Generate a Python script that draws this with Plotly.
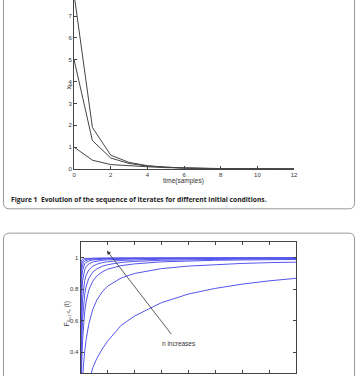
import plotly.graph_objects as go

W, H = 360, 376

# ---------------- Figure 1 data: iterates for different initial conditions
samples = list(range(13))
iter_start_8 = [8.0, 1.9, 0.63, 0.30, 0.15, 0.08, 0.045, 0.025, 0.015, 0.008, 0.004, 0.002, 0.001]
iter_start_5 = [5.0, 1.3, 0.50, 0.25, 0.13, 0.07, 0.040, 0.022, 0.012, 0.007, 0.004, 0.002, 0.001]
iter_start_1 = [1.0, 0.4, 0.20, 0.14, 0.10, 0.06, 0.035, 0.020, 0.011, 0.006, 0.003, 0.002, 0.001]
fig1_xticks = [0, 2, 4, 6, 8, 10, 12]
fig1_yticks = [0, 1, 2, 3, 4, 5, 6, 7]

# ---------------- Figure 2 data: distribution curves, n increases
t_grid = [0, 0.01, 0.02, 0.04, 0.07, 0.1, 0.15, 0.2, 0.3, 0.45, 0.6, 0.8, 1, 1.5, 2, 3, 4, 5, 6, 7, 8]
cdf_n1 = [0, 0.008, 0.016, 0.032, 0.055, 0.077, 0.111, 0.143, 0.21, 0.30, 0.36, 0.42, 0.47, 0.57, 0.63, 0.715, 0.77, 0.806, 0.833, 0.854, 0.870]
cdf_n2 = [0, 0.043, 0.083, 0.154, 0.241, 0.312, 0.405, 0.476, 0.577, 0.672, 0.732, 0.784, 0.820, 0.872, 0.901, 0.932, 0.948, 0.958, 0.965, 0.970, 0.973]
cdf_n3 = [0, 0.114, 0.204, 0.339, 0.473, 0.562, 0.658, 0.719, 0.794, 0.852, 0.885, 0.911, 0.928, 0.951, 0.962, 0.975, 0.981, 0.985, 0.987, 0.989, 0.990]
cdf_n4 = [0, 0.182, 0.308, 0.471, 0.609, 0.690, 0.769, 0.816, 0.870, 0.909, 0.930, 0.947, 0.957, 0.971, 0.978, 0.985, 0.989, 0.991, 0.993, 0.994, 0.994]
cdf_n5 = [0, 0.286, 0.444, 0.615, 0.737, 0.800, 0.857, 0.889, 0.923, 0.947, 0.960, 0.970, 0.976, 0.984, 0.988, 0.992, 0.994, 0.995, 0.996, 0.996, 0.997]
cdf_n6 = [0, 0.455, 0.625, 0.769, 0.854, 0.893, 0.926, 0.943, 0.962, 0.974, 0.980, 0.985, 0.988, 0.992, 0.994, 0.996, 0.997, 0.998, 0.998, 0.998, 0.999]
cdf_n7 = [0, 0.625, 0.769, 0.870, 0.921, 0.943, 0.962, 0.971, 0.980, 0.987, 0.990, 0.993, 0.994, 0.996, 0.997, 0.998, 0.9985, 0.999, 0.999, 0.999, 0.999]
cdf_n8 = [0, 0.769, 0.870, 0.930, 0.959, 0.971, 0.980, 0.985, 0.990, 0.993, 0.995, 0.996, 0.997, 0.998, 0.9985, 0.999, 0.999, 0.999, 0.999, 0.999, 0.999]
cdf_n9 = [0, 0.870, 0.930, 0.964, 0.979, 0.985, 0.990, 0.993, 0.995, 0.997, 0.9975, 0.998, 0.9985, 0.999, 0.999, 0.999, 0.999, 0.999, 0.999, 0.999, 0.999]
cdf_n10 = [0, 0.952, 0.976, 0.988, 0.993, 0.995, 0.997, 0.9975, 0.998, 0.999, 0.999, 0.999, 0.999, 0.999, 0.999, 0.999, 0.999, 0.999, 0.999, 0.999, 0.999]
fig2_xticks = [0, 1, 2, 3, 4, 5, 6, 7, 8]
fig2_yticks = [0.4, 0.6, 0.8, 1.0]
fig2_yticklabels = ["0.4", "0.6", "0.8", "1"]

caption = "Figure 1  Evolution of the sequence of iterates for different initial conditions."


def px(x, y):
    return x / W, 1 - y / H


def rounded_rect(x0, y0, x1, y1, r):
    def P(x, y):
        a, b = px(x, y)
        return f"{a:.5f},{b:.5f}"
    return (f"M {P(x0 + r, y0)} L {P(x1 - r, y0)} Q {P(x1, y0)} {P(x1, y0 + r)} "
            f"L {P(x1, y1 - r)} Q {P(x1, y1)} {P(x1 - r, y1)} "
            f"L {P(x0 + r, y1)} Q {P(x0, y1)} {P(x0, y1 - r)} "
            f"L {P(x0, y0 + r)} Q {P(x0, y0)} {P(x0 + r, y0)} Z")


fig = go.Figure()

line1 = dict(color="#444444", width=1)
for ys in (iter_start_8, iter_start_5, iter_start_1):
    fig.add_trace(go.Scatter(x=samples, y=ys, mode="lines", line=line1,
                             xaxis="x", yaxis="y", hoverinfo="skip"))

blue = "rgb(85,85,235)"
for ys in (cdf_n1, cdf_n2, cdf_n3, cdf_n4, cdf_n5, cdf_n6, cdf_n7, cdf_n8, cdf_n9, cdf_n10):
    fig.add_trace(go.Scatter(x=t_grid, y=ys, mode="lines", line=dict(color=blue, width=1),
                             xaxis="x2", yaxis="y2", hoverinfo="skip"))

tickfont = dict(family="Liberation Sans, Arial, sans-serif", size=6, color="#333")
axis_common = dict(showgrid=False, zeroline=False, showline=True, linecolor="#444",
                   linewidth=1, ticks="inside", ticklen=3, tickcolor="#444",
                   tickwidth=1, tickfont=tickfont)

fig.update_layout(
    width=W, height=H, margin=dict(l=0, r=0, t=0, b=0),
    paper_bgcolor="white", plot_bgcolor="white", showlegend=False,
    xaxis=dict(domain=[73.3 / W, 297 / W], range=[0, 12], tickvals=fig1_xticks,
               anchor="y", **axis_common),
    yaxis=dict(domain=[1 - 170.3 / H, 1], range=[0, 170.3 / 22.0], tickvals=fig1_yticks,
               anchor="x", **axis_common),
    xaxis2=dict(domain=[80 / W, 299 / W], range=[0, 8], tickvals=fig2_xticks,
                showticklabels=False, mirror="ticks", anchor="y2", **axis_common),
    yaxis2=dict(domain=[0, 1 - 244 / H], range=[1 - 116 / 158.3, 1 + 16 / 158.3],
                tickvals=fig2_yticks, ticktext=fig2_yticklabels, mirror="ticks",
                anchor="x2", **axis_common),
)

shapes = [
    dict(type="path", xref="paper", yref="paper",
         path=rounded_rect(1.5, -20, 358.5, 210.5, 6),
         line=dict(color="#9a9a9a", width=1)),
    dict(type="path", xref="paper", yref="paper",
         path=rounded_rect(1.5, 235, 358.5, 420, 6),
         line=dict(color="#9a9a9a", width=1)),
]
fig.update_layout(shapes=shapes)

lab_font = dict(family="Liberation Sans, Arial, sans-serif", size=6.5, color="#333")
annots = []
x, y = px(62, 82)
annots.append(dict(x=x, y=y, xref="paper", yref="paper", text="x<sub>k</sub>",
                   textangle=-90, showarrow=False, font=lab_font))
x, y = px(185, 182)
annots.append(dict(x=x, y=y, xref="paper", yref="paper", text="time(samples)",
                   showarrow=False, font=lab_font))
x, y = px(7, 200.7)
annots.append(dict(x=x, y=y, xref="paper", yref="paper", text="<b>" + caption + "</b>",
                   xanchor="left", showarrow=False,
                   font=dict(family="Open Sans, sans-serif", size=6.7, color="#222")))
x, y = px(60, 331)
annots.append(dict(x=x, y=y, xref="paper", yref="paper",
                   text="F<sub>x<sub>n+1</sub>-x<sub>n</sub></sub> (t)",
                   textangle=-90, showarrow=False, font=lab_font))
annots.append(dict(x=(180 - 80) / 27.375, y=1 - (346.7 - 260) / 158.3, xref="x2", yref="y2",
                   text="n increases", showarrow=False, font=lab_font))
annots.append(dict(x=(106.7 - 80) / 27.375, y=1 + (260 - 252.7) / 158.3, xref="x2", yref="y2",
                   ax=(173.3 - 80) / 27.375, ay=1 - (338.3 - 260) / 158.3, axref="x2", ayref="y2",
                   text="", showarrow=True, arrowhead=2, arrowsize=1, arrowwidth=0.8,
                   arrowcolor="#333"))
fig.update_layout(annotations=annots)

fig.write_html("out.html")
